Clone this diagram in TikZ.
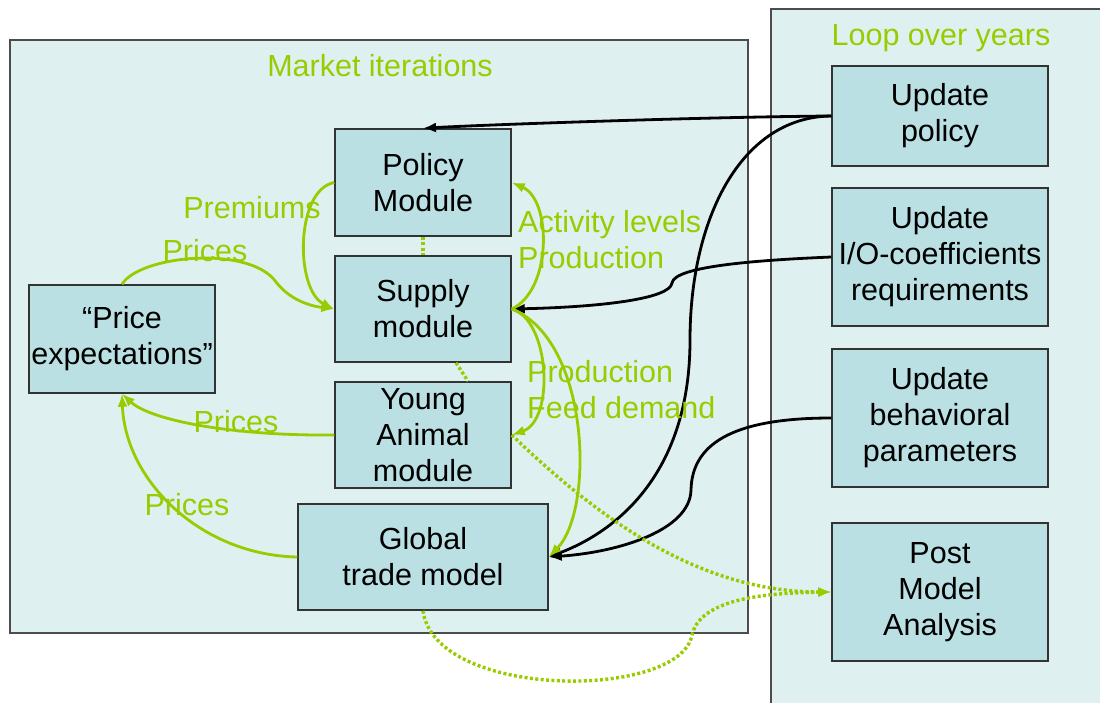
\documentclass[tikz,border=0pt]{standalone}
\usepackage{fontspec}
\setmainfont{Liberation Sans}
\usetikzlibrary{arrows.meta}
\definecolor{lime}{HTML}{99CC00}
\definecolor{boxfill}{HTML}{BBE0E3}
\definecolor{areafill}{HTML}{DFF0F1}
\tikzset{
	block/.style   = {draw=black!80, line width=1.5pt, fill=boxfill, align=center,
		inner sep=0pt},
	frame/.style   = {draw=black!70, line width=1.2pt, fill=areafill},
	heading/.style = {text=lime, inner sep=0pt},
	feed/.style    = {draw=lime, line width=2.8pt},
	ctrl/.style    = {draw=black, line width=2.8pt},
	hint/.style    = {draw=lime, line width=3.4pt, dash pattern=on 3pt off 2.4pt}
}

\begin{document}
\begin{tikzpicture}[x=1pt, y=-1pt, >={Latex[length=13pt,width=10pt]},
	font=\fontsize{30.5}{36}\selectfont]
	\useasboundingbox (0,0) rectangle (1100,702);

	% the two loops
	\draw[frame] (10,40) rectangle (748,633);
	\draw[frame] (771,9) rectangle (1112,714);
	\node[heading] (tmkt) at (380,66) {Market iterations};
	\node[heading] (tloop) at (941,38) {Loop over years};

	\draw
	node at (423,182.5) [block, minimum width=176pt, minimum height=107pt] (pol) {Policy\\Module}
	node at (423,309) [block, minimum width=176pt, minimum height=106pt] (sup) {Supply\\module}
	node at (423,435) [block, minimum width=176pt, minimum height=106pt] (yam) {Young\\Animal\\module}
	node at (423,557) [block, minimum width=250pt, minimum height=106pt] (gl) {Global\\trade model}
	node at (122,339) [block, minimum width=186pt, minimum height=108pt] (pe) {``Price\\expectations''}
	node at (940,116) [block, minimum width=216pt, minimum height=100pt] (up) {Update\\policy}
	node at (940,257) [block, minimum width=216pt, minimum height=138pt] (io) {Update\\I/O-coefficients\\requirements}
	node at (940,418) [block, minimum width=216pt, minimum height=138pt] (beh) {Update\\behavioral\\parameters}
	node at (940,592) [block, minimum width=216pt, minimum height=138pt] (pma) {Post\\Model\\Analysis};

	% yearly updates
	\draw[ctrl,->] (up.west) .. controls (700,117) and (480,125) .. (pol.north);
	\draw[ctrl,->] (up.west) .. controls (740,117) and (690,220) .. (690,340)
		.. controls (690,470) and (620,530) .. (gl.east);
	\draw[ctrl,->] (io.west) .. controls (760,260) and (674,266) .. (672,283)
		.. controls (670,299) and (600,307) .. (sup.east);
	\draw[ctrl,->] (beh.west) .. controls (740,418) and (692,440) .. (691,490)
		.. controls (690,530) and (620,552) .. (gl.east);

	% market flows
	\draw[feed,->] (pol.west) .. controls (295,190) and (295,290) .. (sup.west);
	\draw[feed,->] (pe.north) .. controls (140,255) and (250,245) .. (276,282)
		.. controls (290,300) and (310,306) .. (sup.west);
	\draw[feed,->] (sup.east) .. controls (552,290) and (552,200) .. (pol.east);
	\draw[feed,->] (sup.east) .. controls (550,320) and (555,420) .. (yam.east);
	\draw[feed,->] (sup.east) .. controls (590,340) and (595,510) .. (gl.east);
	\draw[feed,->] (yam.west) .. controls (230,436) and (150,420) .. (pe.south);
	\draw[feed,->] (gl.west) .. controls (200,555) and (125,480) .. (pe.south);

	\draw[hint] (pol.south) -- (sup.north);
	\draw[hint] ([xshift=33pt]sup.south) -- ([xshift=45pt]yam.north);
	\draw[hint,->] (yam.east) .. controls (600,520) and (700,592) .. (pma.west);
	\draw[hint,->] (gl.south) .. controls (435,700) and (680,700) .. (692,635)
		.. controls (700,600) and (760,593) .. (pma.west);

	\node[heading] (lprem) at (252,208) {Premiums};
	\node[heading] (lpr1) at (205,251) {Prices};
	\node[heading, anchor=west, align=left] (lact) at (518,240) {Activity levels\\Production};
	\node[heading, anchor=west, align=left] (lfeed) at (527,390) {Production\\Feed demand};
	\node[heading] (lpr2) at (236,422) {Prices};
	\node[heading] (lpr3) at (187,505) {Prices};
\end{tikzpicture}
\end{document}
